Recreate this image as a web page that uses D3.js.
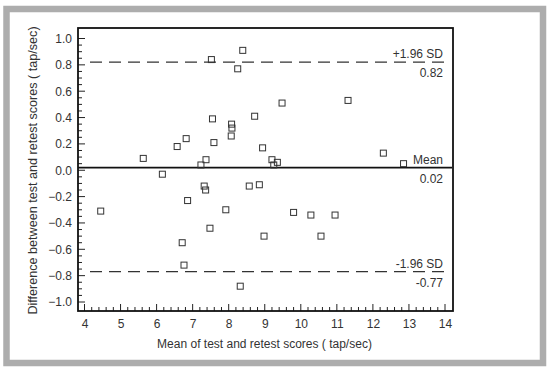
<!DOCTYPE html>
<html><head><meta charset="utf-8">
<script src="https://cdn.jsdelivr.net/npm/d3@7"></script>
<style>body{margin:0;background:#fff}svg{display:block;font-family:"Liberation Sans",Arial,sans-serif}</style>
</head><body><svg id="c" width="550" height="373"></svg>
<script>
const meanX = [4.45,5.63,6.16,6.57,6.82,6.71,6.76,6.86,7.23,7.37,7.32,7.36,7.48,7.52,7.55,7.59,7.92,8.08,8.09,8.07,8.25,8.39,8.32,8.57,8.72,8.85,8.94,8.98,9.20,9.25,9.35,9.48,9.80,10.28,10.56,10.95,11.31,12.29,12.85];
const diffY = [-0.31,0.09,-0.03,0.18,0.24,-0.55,-0.72,-0.23,0.04,0.08,-0.12,-0.15,-0.44,0.84,0.39,0.21,-0.30,0.35,0.32,0.26,0.77,0.91,-0.88,-0.12,0.41,-0.11,0.17,-0.50,0.08,0.04,0.06,0.51,-0.32,-0.34,-0.50,-0.34,0.53,0.13,0.05];
const xTicks = [4,5,6,7,8,9,10,11,12,13,14];
const yTicks = [1.0,0.8,0.6,0.4,0.2,0.0,-0.2,-0.4,-0.6,-0.8,-1.0];
const meanDiff = 0.02, upperLoA = 0.82, lowerLoA = -0.77;
const lineLabels = [{top:"+1.96 SD", bottom:"0.82", v:upperLoA},{top:"Mean", bottom:"0.02", v:meanDiff},{top:"-1.96 SD", bottom:"-0.77", v:lowerLoA}];
const xTitle = "Mean of test and retest scores ( tap/sec)";
const yTitle = "Difference between test and retest scores ( tap/sec)";

const svg = d3.select("#c");
svg.append("rect").attr("x",6.5).attr("y",9).attr("width",536.5).attr("height",354).attr("fill","none").attr("stroke","#adadad").attr("stroke-width",6.5);

const L=78,R=453,T=28,B=311;
const x = d3.scaleLinear().domain([4,14]).range([84.5,445]);
const y = d3.scaleLinear().domain([-1,1]).range([302,38.5]);
const txt = "#333";
const fs = 12;

const g = svg.append("g");
d3.range(4,14.001,0.2).forEach(v=>{
  const major = Math.abs(v-Math.round(v))<1e-6;
  g.append("line").attr("x1",x(v)).attr("x2",x(v)).attr("y1",B).attr("y2",B-(major?7:4)).attr("stroke","#222").attr("stroke-width",1);
});
d3.range(-1,1.0001,0.05).forEach(v=>{
  const major = Math.abs(v*5-Math.round(v*5))<1e-6;
  g.append("line").attr("y1",y(v)).attr("y2",y(v)).attr("x1",L).attr("x2",L+(major?7:4)).attr("stroke","#222").attr("stroke-width",1);
});
const xa = svg.append("g").attr("transform",`translate(0,${B})`).call(d3.axisBottom(x).tickValues(xTicks).tickSize(0).tickPadding(8).tickFormat(d3.format("d")));
xa.select(".domain").remove();
xa.selectAll("text").attr("font-size",fs).attr("fill",txt).attr("font-family","Liberation Sans, Arial, sans-serif");
const ya = svg.append("g").attr("transform",`translate(${L},0)`).call(d3.axisLeft(y).tickValues(yTicks).tickSize(0).tickPadding(6).tickFormat(d3.format(".1f")));
ya.select(".domain").remove();
ya.selectAll("text").attr("font-size",fs).attr("fill",txt).attr("font-family","Liberation Sans, Arial, sans-serif");

svg.append("line").attr("x1",L).attr("x2",R-1).attr("y1",y(meanDiff)).attr("y2",y(meanDiff)).attr("stroke","#111").attr("stroke-width",1.6);
[upperLoA,lowerLoA].forEach(v=>{
  svg.append("line").attr("x1",90).attr("x2",R-3).attr("y1",y(v)).attr("y2",y(v)).attr("stroke","#333").attr("stroke-width",1.2).attr("stroke-dasharray","12,7");
});
lineLabels.forEach(d=>{
  svg.append("text").attr("x",443).attr("y",y(d.v)-4).attr("text-anchor","end").attr("font-size",fs).attr("fill",txt).text(d.top);
  svg.append("text").attr("x",443).attr("y",y(d.v)+15).attr("text-anchor","end").attr("font-size",fs).attr("fill",txt).text(d.bottom);
});

svg.append("g").selectAll("rect").data(meanX.map((v,i)=>[v,diffY[i]])).join("rect")
  .attr("x",d=>x(d[0])-3).attr("y",d=>y(d[1])-3).attr("width",6).attr("height",6)
  .attr("fill","none").attr("stroke","#333").attr("stroke-width",1);

svg.append("rect").attr("x",L).attr("y",T).attr("width",R-L).attr("height",B-T).attr("fill","none").attr("stroke","#111").attr("stroke-width",1.8);

svg.append("text").attr("x",(L+R)/2-1).attr("y",348).attr("text-anchor","middle").attr("font-size",12).attr("fill",txt).text(xTitle);
svg.append("text").attr("transform",`translate(37,${(T+B)/2+1}) rotate(-90)`).attr("text-anchor","middle").attr("font-size",12.6).attr("fill",txt).text(yTitle);
</script></body></html>
